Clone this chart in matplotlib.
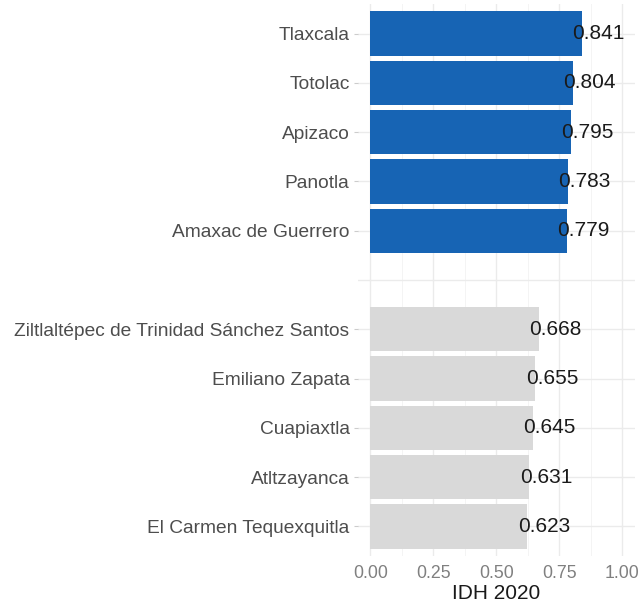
import matplotlib
matplotlib.use("Agg")
import matplotlib.pyplot as plt
import numpy as np
from matplotlib.ticker import MultipleLocator

plt.rcParams['font.family'] = ['Liberation Sans', 'DejaVu Sans']

top_names = ["Tlaxcala", "Totolac", "Apizaco", "Panotla", "Amaxac de Guerrero"]
top_values = [0.841, 0.804, 0.795, 0.783, 0.779]
bottom_names = ["Ziltlaltépec de Trinidad Sánchez Santos", "Emiliano Zapata",
                "Cuapiaxtla", "Atltzayanca", "El Carmen Tequexquitla"]
bottom_values = [0.668, 0.655, 0.645, 0.631, 0.623]
top_color = "#1764b4"
bottom_color = "#d9d9d9"
x_ticks = [0.00, 0.25, 0.50, 0.75, 1.00]
x_label = "IDH 2020"

labels = top_names + [""] + bottom_names
n = len(labels)
ypos = np.arange(n)

fig = plt.figure(figsize=(6.39, 6.04), dpi=100)
ax = fig.add_axes([0.560, 0.0795, 0.9937 - 0.560, 0.9934 - 0.0795])

top_y = ypos[:len(top_names)]
bot_y = ypos[len(top_names) + 1:]
ax.barh(top_y, top_values, height=0.9, color=top_color, zorder=2)
ax.barh(bot_y, bottom_values, height=0.9, color=bottom_color, zorder=2)

for y, v in list(zip(top_y, top_values)) + list(zip(bot_y, bottom_values)):
    ax.annotate(f"{v:.3f}", xy=(v, y), xytext=(-7, 0), textcoords="offset points",
                ha="left", va="center", fontsize=15, color="#1a1a1a", zorder=3)

ax.set_xlim(-0.05, 1.05)
ax.set_ylim(n - 1 + 0.6, -0.6)
ax.set_yticks(ypos)
ax.set_yticklabels(labels, fontsize=13.8, color="#4d4d4d")
ax.set_xticks(x_ticks)
ax.set_xticklabels([f"{t:.2f}" for t in x_ticks], fontsize=12.8, color="#808080")
ax.xaxis.set_minor_locator(MultipleLocator(0.125))
ax.set_xlabel(x_label, fontsize=15, color="#1a1a1a", labelpad=1.5)

ax.grid(True, which="major", axis="both", color="#ebebeb", linewidth=1.0, zorder=0)
ax.grid(True, which="minor", axis="x", color="#f2f2f2", linewidth=0.6, zorder=0)
ax.set_axisbelow(True)
for s in ax.spines.values():
    s.set_visible(False)
ax.tick_params(axis="y", length=3, color="#cccccc", pad=3)
ax.tick_params(axis="x", which="both", length=0, pad=6.5)
ax.yaxis.get_major_ticks()[len(top_names)].tick1line.set_visible(False)

fig.savefig("out.png", dpi=100)
